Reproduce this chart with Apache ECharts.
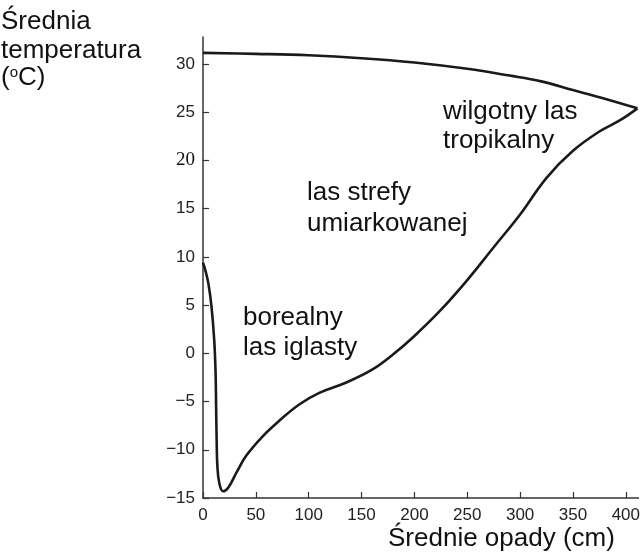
<!DOCTYPE html>
<html>
<head>
<meta charset="utf-8">
<script src="https://cdn.jsdelivr.net/npm/echarts@6/dist/echarts.min.js"></script>
<style>
  html, body { margin: 0; padding: 0; background: #ffffff; }
  #chart { width: 643px; height: 556px; }
</style>
</head>
<body>
<div id="chart"></div>
<script>
// Upper limit of forest: hottest mean temperature for a given precipitation
var upperPrecip = [0, 50, 100, 150, 200, 250, 290, 320, 350, 380, 411];
var upperTemp   = [31.15, 31.05, 30.9, 30.6, 30.15, 29.5, 28.8, 28.2, 27.3, 26.4, 25.4];

// Lower / dry limit of forest
var lowerPrecip = [0, 2, 5, 8, 10.6, 11.9, 12.4, 12.9, 13.6, 15.5, 19, 24, 32, 41, 56.5, 72, 91, 110, 135, 160, 180, 200, 225, 250, 275, 300, 325, 350, 375, 395, 411];
var lowerTemp   = [9.4, 8.7, 7.3, 4.9, 1.4, -2, -5.5, -8.9, -11.7, -13.5, -14.3, -13.9, -12.3, -10.6, -8.6, -7.0, -5.3, -4.1, -3.05, -1.7, -0.1, 1.8, 4.5, 7.6, 11.0, 14.4, 18.2, 21.0, 23.0, 24.2, 25.4];

// Axis ticks
var xTicks = [0, 50, 100, 150, 200, 250, 300, 350, 400];
var yTicks = [-15, -10, -5, 0, 5, 10, 15, 20, 25, 30];

// Biome labels: [line 1, line 2]
var biomeTropical  = ['wilgotny las', 'tropikalny'];
var biomeTemperate = ['las strefy', 'umiarkowanej'];
var biomeBoreal    = ['borealny', 'las iglasty'];

var yTitle = ['Średnia', 'temperatura'];
var xTitle = 'Średnie opady (cm)';

function pairs(xs, ys) {
  return xs.map(function (x, i) { return [x, ys[i]]; });
}

var FONT = '"Liberation Sans", Arial, Helvetica, sans-serif';
var INK = '#1a1a1a';
var TXT = '26px ' + FONT;

var chart = echarts.init(document.getElementById('chart'), null, { renderer: 'canvas' });

var lineStyle = { color: INK, width: 2.6 };

chart.setOption({
  animation: false,
  backgroundColor: '#ffffff',
  grid: { left: 203, right: 0, top: 37, bottom: 58, containLabel: false },
  xAxis: {
    type: 'value',
    min: 0,
    max: 412,
    interval: 50,
    axisLine: { show: true, onZero: false, lineStyle: { color: '#333', width: 1.5 } },
    axisTick: { show: true, inside: true, length: 6, lineStyle: { color: '#333', width: 1.2 } },
    splitLine: { show: false },
    axisLabel: {
      showMaxLabel: false,
      margin: 9,
      color: '#222',
      fontFamily: FONT,
      fontSize: 17,
      formatter: function (v) { return xTicks.indexOf(v) >= 0 ? String(v) : ''; }
    }
  },
  yAxis: {
    type: 'value',
    min: -15,
    max: 32.8,
    interval: 5,
    axisLine: { show: true, onZero: false, lineStyle: { color: '#333', width: 1.5 } },
    axisTick: { show: true, inside: true, length: 6, lineStyle: { color: '#333', width: 1.2 } },
    splitLine: { show: false },
    axisLabel: {
      showMaxLabel: false,
      margin: 8,
      color: '#222',
      fontFamily: FONT,
      fontSize: 17,
      formatter: function (v) {
        if (yTicks.indexOf(v) < 0) return '';
        var s = String(v).replace('-', '\u2212');
        return v === 20 ? '{serif|' + s + '}' : s;
      },
      rich: {
        serif: { fontFamily: '"Liberation Serif", "Times New Roman", serif', fontSize: 19, color: '#111' }
      }
    }
  },
  series: [
    {
      type: 'line',
      data: pairs(upperPrecip, upperTemp),
      smooth: 0.4,
      symbol: 'none',
      lineStyle: lineStyle
    },
    {
      type: 'line',
      data: pairs(lowerPrecip, lowerTemp),
      smooth: 0.4,
      symbol: 'none',
      lineStyle: lineStyle
    }
  ],
  graphic: [
    { type: 'text', left: 1, top: 9, style: { text: yTitle[0], font: TXT, fill: '#111' } },
    { type: 'text', left: 1, top: 38, style: { text: yTitle[1], font: TXT, fill: '#111' } },
    {
      type: 'text', left: 1, top: 65,
      style: {
        text: '({sup|o}C)',
        font: TXT,
        fill: '#111',
        rich: { sup: { fontSize: 15, fontFamily: FONT, verticalAlign: 'top', padding: [0, 0, 10, 0], fill: '#111' } }
      }
    },
    { type: 'text', left: 388, top: 526, style: { text: xTitle, font: TXT, fill: '#111' } },

    { type: 'text', left: 443, top: 99,  style: { text: biomeTropical[0], font: TXT, fill: '#111' } },
    { type: 'text', left: 443, top: 128, style: { text: biomeTropical[1], font: TXT, fill: '#111' } },
    { type: 'text', left: 307, top: 180, style: { text: biomeTemperate[0], font: TXT, fill: '#111' } },
    { type: 'text', left: 307, top: 211, style: { text: biomeTemperate[1], font: TXT, fill: '#111' } },
    { type: 'text', left: 243, top: 305, style: { text: biomeBoreal[0], font: TXT, fill: '#111' } },
    { type: 'text', left: 243, top: 335, style: { text: biomeBoreal[1], font: TXT, fill: '#111' } }
  ]
});
</script>
</body>
</html>
